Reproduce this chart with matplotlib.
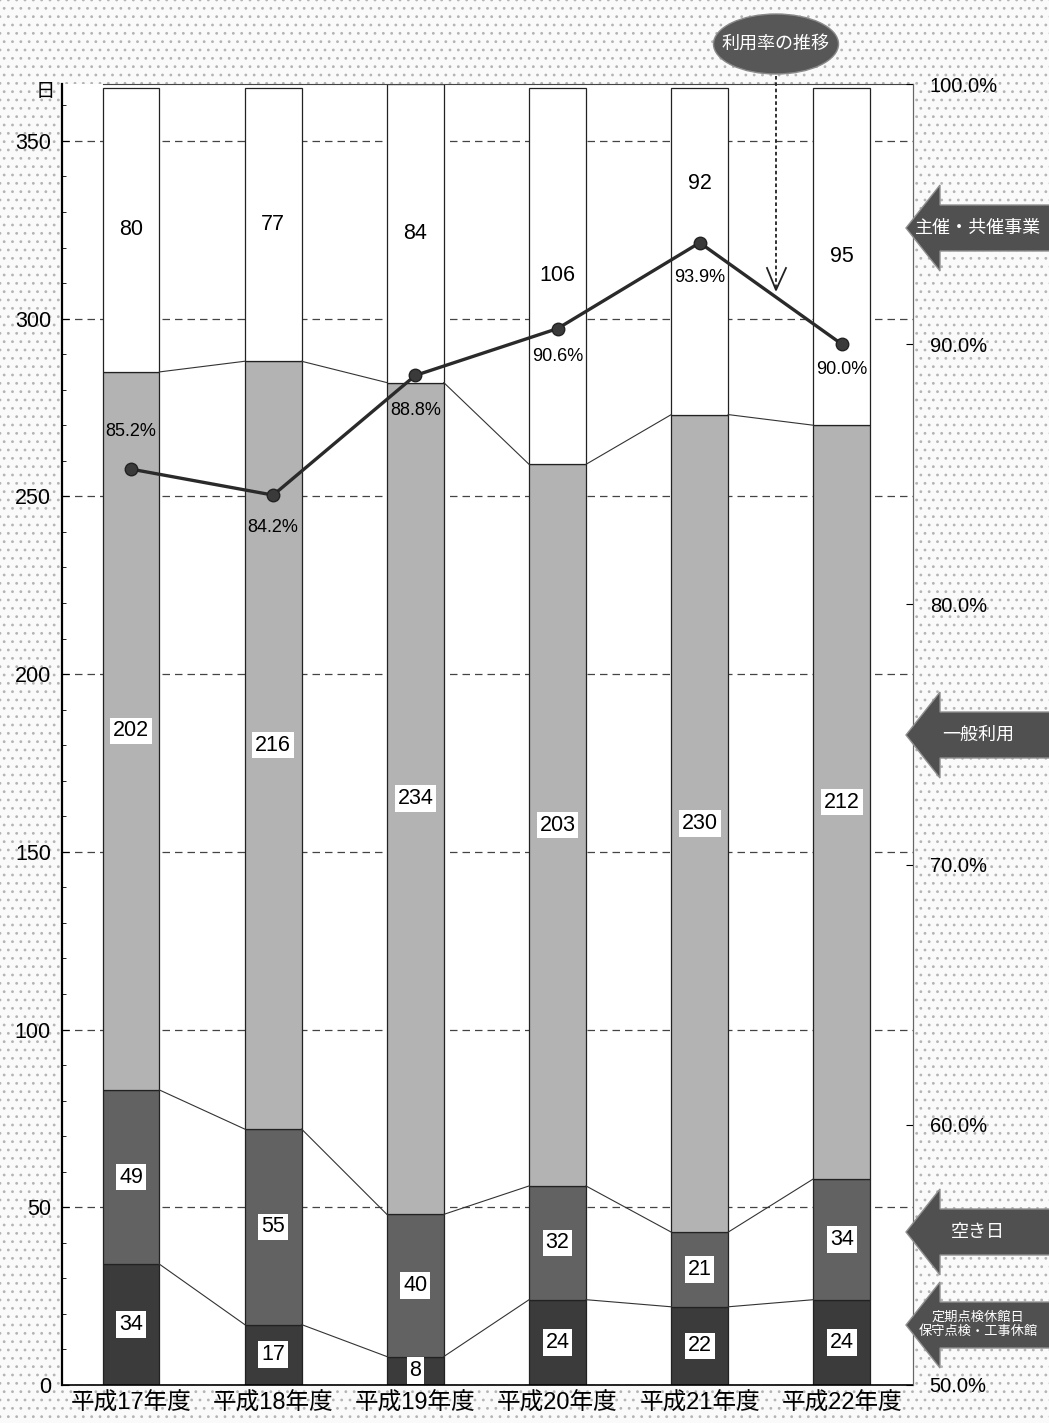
import numpy as np
import matplotlib
matplotlib.use('Agg')
import matplotlib.pyplot as plt
import matplotlib.patches as mpatches
from matplotlib.lines import Line2D

plt.rcParams['font.family'] = ['Liberation Sans', 'Noto Sans CJK JP', 'DejaVu Sans']
plt.rcParams['hatch.linewidth'] = 0.8

# Data
years = ['平成17年度', '平成18年度', '平成19年度', '平成20年度', '平成21年度', '平成22年度']
inspection_days = [34, 17, 8, 24, 22, 24]        # 定期点検休館日
vacant_days = [49, 55, 40, 32, 21, 34]           # 空き日
general_days = [202, 216, 234, 203, 230, 212]    # 一般利用
hosted_days = [80, 77, 84, 106, 92, 95]          # 主催・共催事業
usage_rate = [85.2, 84.2, 88.8, 90.6, 93.9, 90.0]  # 利用率

day_ticks = [0, 50, 100, 150, 200, 250, 300, 350]
rate_ticks = [50, 60, 70, 80, 90, 100]
legend_names = ['定期点検休館日\n保守点検・工事休館', '空き日', '一般利用', '主催・共催事業']

W, H = 1049, 1423


def fpos(px, py):
    # figure pixel (from top-left) -> figure fraction
    return px / W, 1 - py / H


fig = plt.figure(figsize=(W / 100, H / 100), dpi=100)
fig.patch.set_facecolor('white')

# stippled paper background
bg = mpatches.Rectangle((0, 0), 1, 1, transform=fig.transFigure, facecolor='#fafafa',
                        edgecolor='#b4b4b4', linewidth=0, hatch='..', zorder=-1)
fig.add_artist(bg)

l, b = fpos(62, 1385)
r, t = fpos(913, 84)
ax = fig.add_axes([l, b, r - l, t - b])
ax.set_facecolor('white')

x = np.arange(len(years))
width = 0.40
series = [inspection_days, vacant_days, general_days, hosted_days]
colors = ['#3b3b3b', '#626262', '#b3b3b3', 'white']

bottom = np.zeros(len(years))
levels = []
for i, (vals, col) in enumerate(zip(series, colors)):
    vals = np.array(vals)
    ax.bar(x, vals, width, bottom=bottom, color=col, edgecolor='#222222',
           linewidth=0.9, zorder=2)
    for xi, bt, v in zip(x, bottom, vals):
        if i < 3:
            ax.text(xi, bt + v / 2, str(v), ha='center', va='center', fontsize=15.5,
                    zorder=4, bbox=dict(facecolor='white', edgecolor='none', pad=2))
    bottom = bottom + vals
    levels.append(bottom.copy())

# top labels (92 pushed up away from the rate line)
top_shift = [0, 0, 0, 0, 19, 0]
for xi, bt, v, s in zip(x, levels[2], hosted_days, top_shift):
    ax.text(xi, bt + v / 2 + s, str(v), ha='center', va='center', fontsize=15.5, zorder=4)

# connector lines between bars
for lvl in levels[:3]:
    for i in range(len(x) - 1):
        ax.plot([x[i] + width / 2, x[i + 1] - width / 2], [lvl[i], lvl[i + 1]],
                color='#333333', lw=0.8, zorder=3)

ax.set_xlim(-0.485, 5.5)
ax.set_ylim(0, 366)
ax.set_yticks(day_ticks)
ax.set_yticks(np.arange(0, 366, 10), minor=True)
ax.tick_params(axis='y', which='major', direction='in', length=5, labelsize=15.5, pad=8)
ax.tick_params(axis='y', which='minor', direction='in', length=3)
ax.set_xticks(x, years, fontsize=17)
ax.tick_params(axis='x', length=0, pad=5)
ax.yaxis.grid(True, linestyle=(0, (6, 4)), color='#444444', lw=0.9)
ax.set_axisbelow(True)

ax.spines['left'].set_linewidth(1.6)
ax.spines['bottom'].set_linewidth(1.2)
ax.spines['right'].set_color('#666666')
ax.spines['top'].set_bounds(x[0] - width / 2, 5.5)
ax.spines['top'].set_color('#444444')

# rate line on the right axis
ax2 = ax.twinx()
ax2.set_ylim(50, 100)
ax2.plot(x, usage_rate, color='#2a2a2a', lw=2.4, marker='o', markersize=9,
         markerfacecolor='#3a3a3a', markeredgecolor='#222222', zorder=5)
label_off = [27, -23, -25, -20, -25, -18]
for xi, v, off in zip(x, usage_rate, label_off):
    ax2.annotate(f'{v:.1f}%', (xi, v), xytext=(0, off), textcoords='offset points',
                 ha='center', va='center', fontsize=13, zorder=6)
ax2.set_yticks(rate_ticks, [f'{v:.1f}%' for v in rate_ticks])
ax2.tick_params(axis='y', direction='in', length=5, labelsize=14.5, pad=12)
for sp in ['left', 'top', 'bottom']:
    ax2.spines[sp].set_visible(False)
ax2.spines['right'].set_color('#666666')

fig.text(*fpos(45, 92), '日', ha='center', va='center', fontsize=14)

# ellipse callout
ex, ey = fpos(776, 44)
fig.add_artist(mpatches.Ellipse((ex, ey), 125 / W, 60 / H, transform=fig.transFigure,
                                facecolor='#575757', edgecolor='#8a8a8a', lw=1, zorder=5))
fig.text(ex, ey, '利用率の推移', ha='center', va='center', fontsize=13,
         color='white', zorder=6)
p0, p1 = fpos(776, 76), fpos(776, 289)
fig.add_artist(Line2D([p0[0], p1[0]], [p0[1], p1[1]], transform=fig.transFigure,
                      color='#222222', lw=1.3, linestyle=(0, (2, 1.5)), zorder=5))
va, vb, vc = fpos(767, 268), fpos(776, 290), fpos(786, 268)
fig.add_artist(Line2D([va[0], vb[0], vc[0]], [va[1], vb[1], vc[1]],
                      transform=fig.transFigure, color='#222222', lw=1.3, zorder=5))

# block arrows on the right naming the segments
arrow_y = [1325, 1232, 735, 228]
for name, cy in zip(legend_names, arrow_y):
    tip, hx, hh, bh = 906, 940, 43, 23
    pts = [(tip, cy), (hx, cy - hh), (hx, cy - bh), (1055, cy - bh),
           (1055, cy + bh), (hx, cy + bh), (hx, cy + hh)]
    fig.add_artist(mpatches.Polygon([fpos(px, py) for px, py in pts], closed=True,
                                    transform=fig.transFigure, facecolor='#505050',
                                    edgecolor='#909090', lw=1, zorder=5))
    fs = 9.5 if '\n' in name else 13
    fig.text(*fpos(978, cy), name, ha='center', va='center', fontsize=fs,
             color='white', linespacing=1.15, zorder=6)

fig.savefig('out.png', dpi=100)
